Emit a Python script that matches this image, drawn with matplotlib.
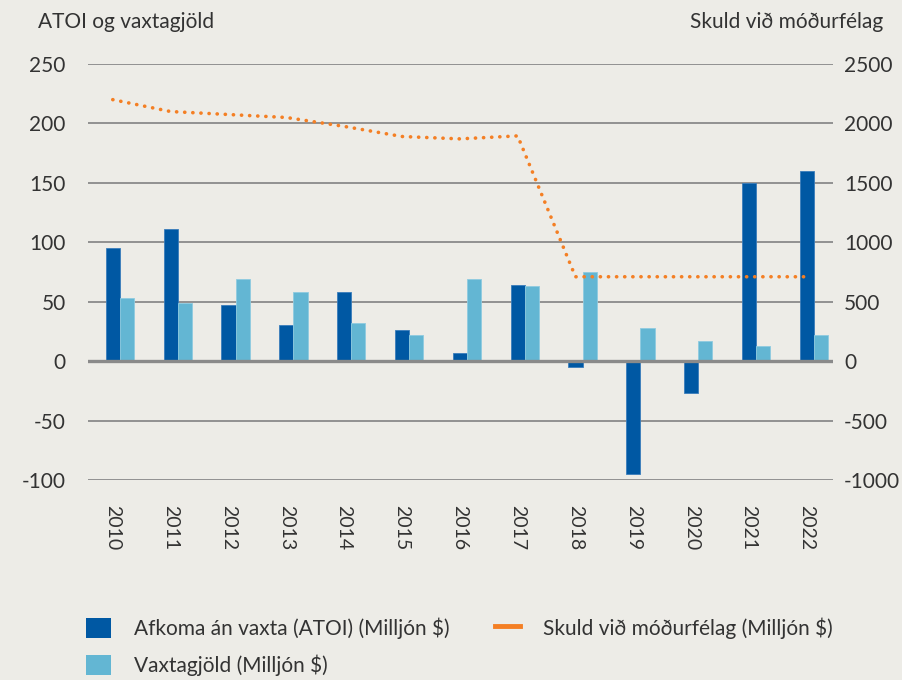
import matplotlib
matplotlib.use("Agg")
import matplotlib.pyplot as plt
import numpy as np
from matplotlib.lines import Line2D
from matplotlib.patches import Patch

# Data
years = ["2010", "2011", "2012", "2013", "2014", "2015", "2016",
         "2017", "2018", "2019", "2020", "2021", "2022"]
atoi = [95, 111, 47, 30, 58, 26, 7, 64, -5, -95, -27, 150, 160]
vaxtagjold = [53, 49, 69, 58, 32, 22, 69, 63, 75, 28, 17, 13, 22]
skuld = [2200, 2100, 2075, 2050, 1975, 1890, 1870, 1895, 710, 710, 710, 710, 710]

left_ticks = [-100, -50, 0, 50, 100, 150, 200, 250]
right_ticks = [-1000, -500, 0, 500, 1000, 1500, 2000, 2500]

label_atoi = "Afkoma án vaxta (ATOI) (Milljón $)"
label_vaxt = "Vaxtagjöld (Milljón $)"
label_skuld = "Skuld við móðurfélag (Milljón $)"

# Style
bg = "#EDECE7"
dark_blue = "#0058A3"
light_blue = "#63B6D3"
orange = "#F47F24"
grid_color = "#8A8A8A"
text_color = "#333333"
plt.rcParams["font.family"] = ["Lato", "DejaVu Sans"]
plt.rcParams["axes.unicode_minus"] = False

fig = plt.figure(figsize=(9.02, 6.8), dpi=100, facecolor=bg)
ax = fig.add_axes([0.0976, 0.2941, 0.8259, 0.6118])
ax.set_facecolor(bg)
ax2 = ax.twinx()

x = np.arange(len(years))
w = 0.245

ax.bar(x - w / 2, atoi, width=w, color=dark_blue, edgecolor="#3A7DBB",
       linewidth=0.6, zorder=3)
ax.bar(x + w / 2, vaxtagjold, width=w, color=light_blue, edgecolor="#8ECBE0",
       linewidth=0.6, zorder=3)

ax2.plot(x - w / 2, skuld, color=orange, linewidth=2.6,
         linestyle=(0, (0.05, 2.2)), dash_capstyle="round", zorder=4)

# Axes ranges and grid
ax.set_xlim(-0.55, 12.33)
ax.set_ylim(-100, 250)
ax2.set_ylim(-1000, 2500)
ax.set_yticks(left_ticks)
ax2.set_yticks(right_ticks)
for t in left_ticks:
    ax.axhline(t, color=grid_color, linewidth=2.4 if t == 0 else 1.3,
               zorder=3.5 if t == 0 else 2)

for a in (ax, ax2):
    for s in a.spines.values():
        s.set_visible(False)
ax.tick_params(axis="y", length=0, pad=16, labelsize=15, labelcolor=text_color)
ax2.tick_params(axis="y", length=0, pad=8, labelsize=15, labelcolor=text_color)
ax.set_xticks(x - w / 2)
ax.set_xticklabels(years, rotation=270, ha="center", va="top")
ax.tick_params(axis="x", length=0, pad=18, labelsize=14, labelcolor=text_color)
ax2.patch.set_visible(False)

# Axis titles
fig.text(0.042, 0.967, "ATOI og vaxtagjöld", fontsize=15, color=text_color,
         ha="left", va="center")
fig.text(0.979, 0.967, "Skuld við móðurfélag", fontsize=15, color=text_color,
         ha="right", va="center")

# Legend
handles = [
    Patch(facecolor=dark_blue, edgecolor="none", label=label_atoi),
    Patch(facecolor=light_blue, edgecolor="none", label=label_vaxt),
    Line2D([0], [0], color=orange, linewidth=3.5, label=label_skuld),
]
fig.legend(handles=handles, loc="upper left", bbox_to_anchor=(0.095, 0.092),
           ncol=2, frameon=False, fontsize=15, labelcolor=text_color,
           handlelength=1.2, handleheight=1.15, handletextpad=1.1,
           columnspacing=2.2, labelspacing=0.75, borderaxespad=0,
           borderpad=0)

fig.savefig("out.png", dpi=100, facecolor=bg)
